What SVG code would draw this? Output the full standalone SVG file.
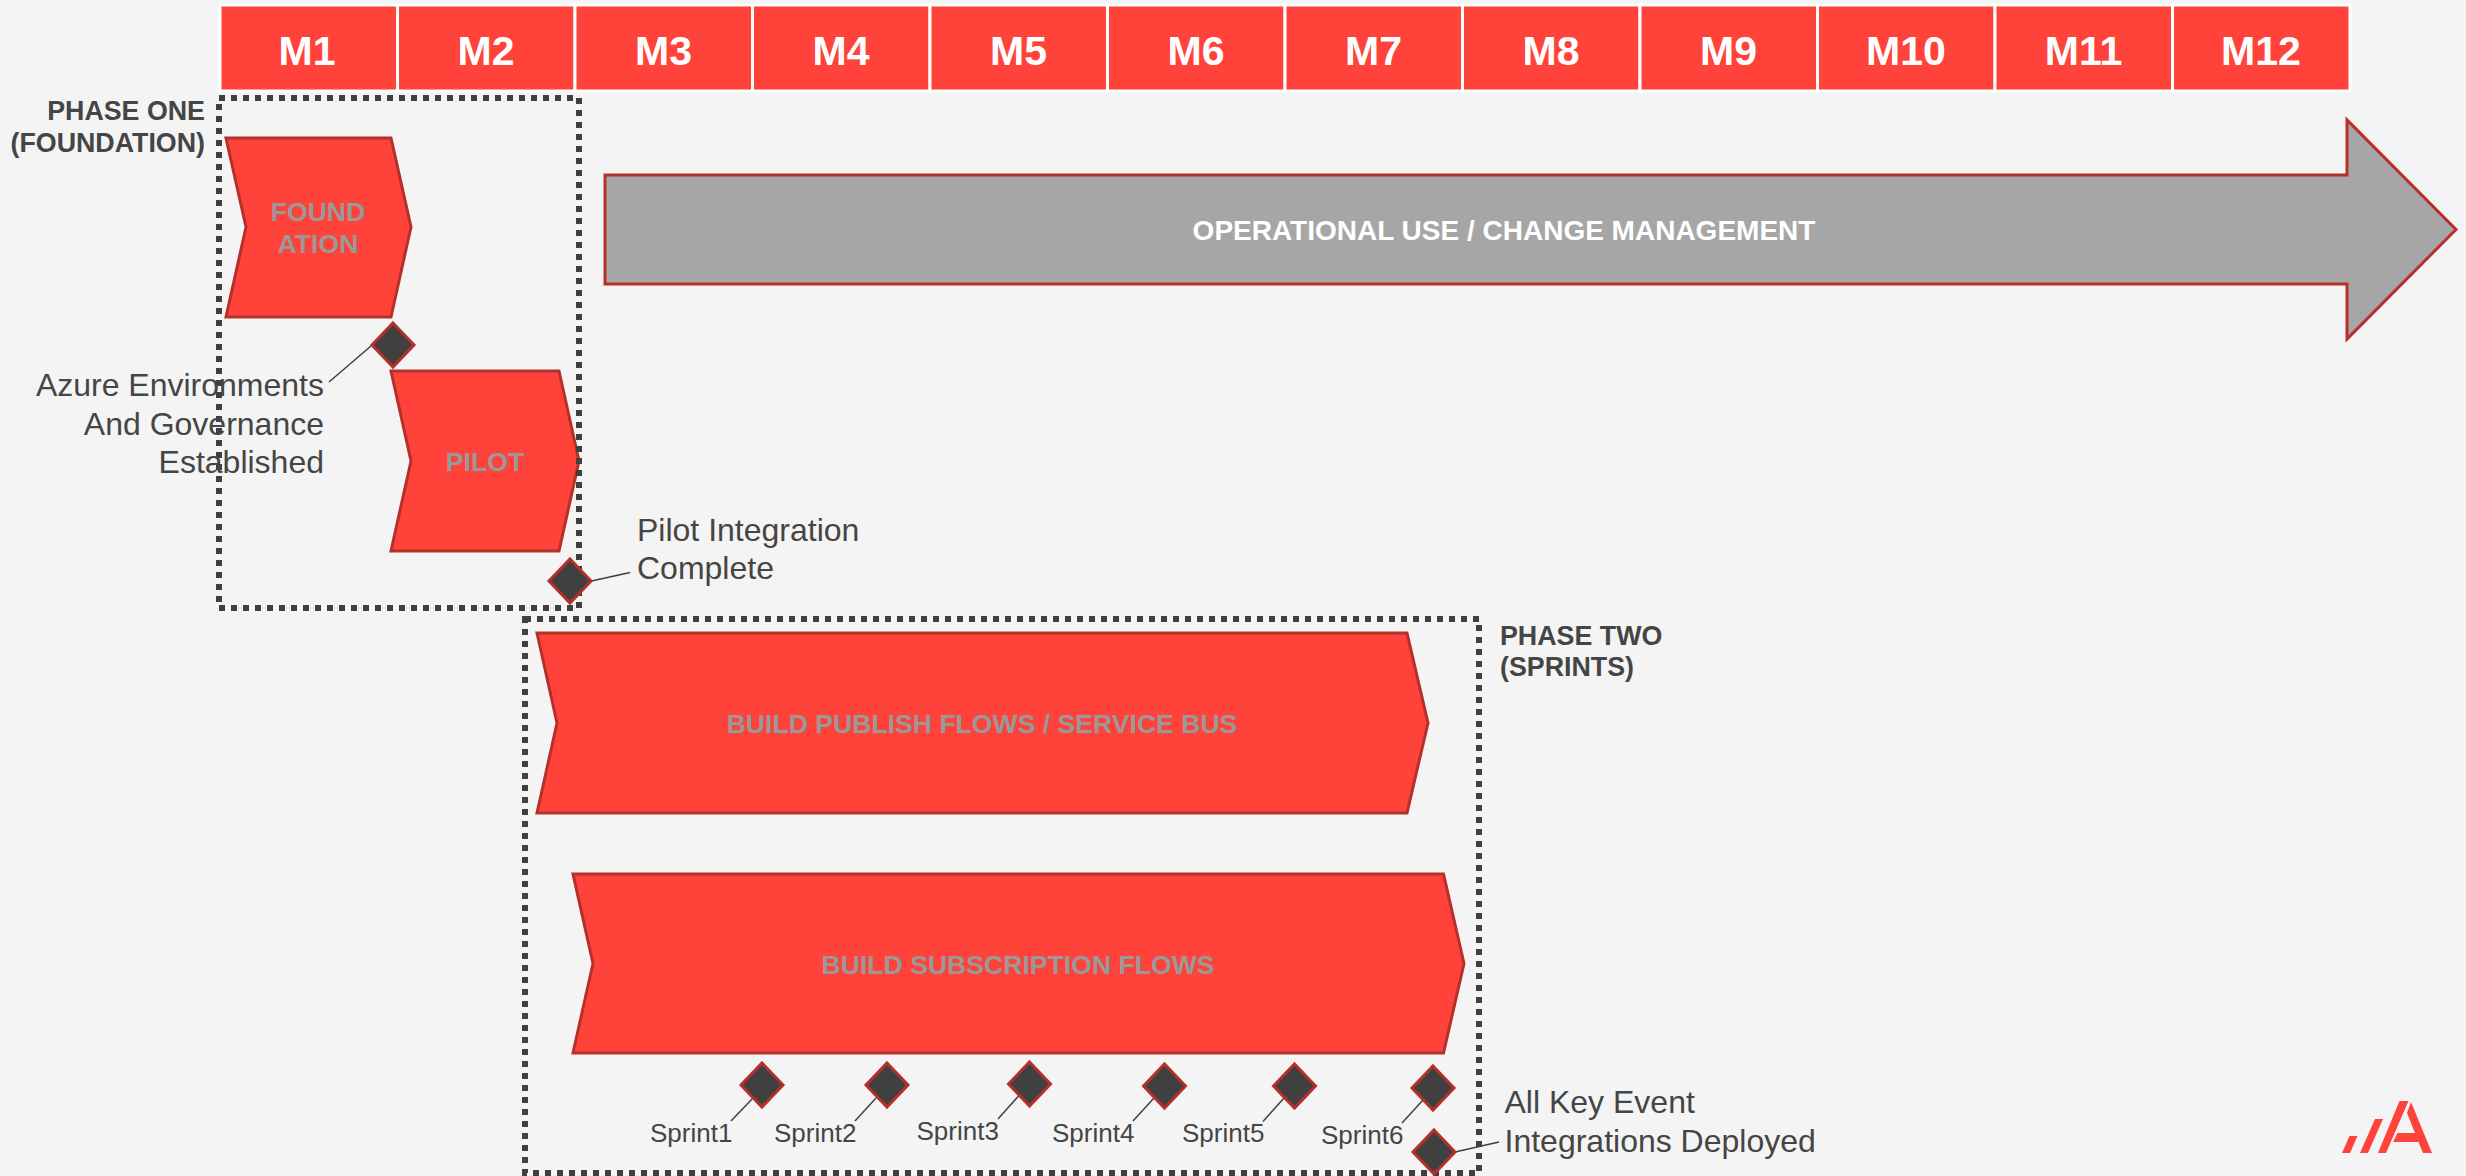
<svg xmlns="http://www.w3.org/2000/svg" width="2466" height="1176" viewBox="0 0 2466 1176">
<style>
text{font-family:"Liberation Sans",Arial,sans-serif}
.m{fill:#fff;font-weight:700;font-size:41px;text-anchor:middle}
.cell{fill:#ff433a;stroke:#fff;stroke-width:3}
.chev{fill:#ff433a;stroke:#b5302a;stroke-width:3}
.cl{fill:#999;font-weight:700;font-size:26.6px;text-anchor:middle}
.dia{fill:#404040;stroke:#b5302a;stroke-width:3}
.box{fill:none;stroke:#404040;stroke-width:6;stroke-dasharray:6 6}
.ln{fill:none;stroke:#404040;stroke-width:1.5}
.lb{fill:#454545;font-size:32px}
.sp{fill:#454545;font-size:26px}
.ph{fill:#454545;font-weight:700;font-size:26.8px}
</style>
<rect width="2466" height="1176" fill="#f4f4f4"/>
<g id="header">
<g id="m1"><rect class="cell" x="220" y="5" width="177.5" height="86"/><text class="m" x="307" y="65">M1</text></g>
<g id="m2"><rect class="cell" x="397.5" y="5" width="177.5" height="86"/><text class="m" x="486" y="65">M2</text></g>
<g id="m3"><rect class="cell" x="575" y="5" width="177.5" height="86"/><text class="m" x="663.5" y="65">M3</text></g>
<g id="m4"><rect class="cell" x="752.5" y="5" width="177.5" height="86"/><text class="m" x="841" y="65">M4</text></g>
<g id="m5"><rect class="cell" x="930" y="5" width="177.5" height="86"/><text class="m" x="1018.5" y="65">M5</text></g>
<g id="m6"><rect class="cell" x="1107.5" y="5" width="177.5" height="86"/><text class="m" x="1196" y="65">M6</text></g>
<g id="m7"><rect class="cell" x="1285" y="5" width="177.5" height="86"/><text class="m" x="1373.5" y="65">M7</text></g>
<g id="m8"><rect class="cell" x="1462.5" y="5" width="177.5" height="86"/><text class="m" x="1551" y="65">M8</text></g>
<g id="m9"><rect class="cell" x="1640" y="5" width="177.5" height="86"/><text class="m" x="1728.5" y="65">M9</text></g>
<g id="m10"><rect class="cell" x="1817.5" y="5" width="177.5" height="86"/><text class="m" x="1906" y="65">M10</text></g>
<g id="m11"><rect class="cell" x="1995" y="5" width="177.5" height="86"/><text class="m" x="2083.5" y="65">M11</text></g>
<g id="m12"><rect class="cell" x="2172.5" y="5" width="177.5" height="86"/><text class="m" x="2261" y="65">M12</text></g>
</g>
<g id="operational"><path d="M605 175H2347V120L2456 229.5L2347 339V284H605Z" fill="#a6a6a6" stroke="#b5302a" stroke-width="3"/><text x="1504" y="240" fill="#fff" font-weight="700" font-size="28" text-anchor="middle">OPERATIONAL USE / CHANGE MANAGEMENT</text></g>
<g id="foundation"><path class="chev" d="M226 138H391L411 227L391 317H226L246 227Z"/><text class="cl" x="318" y="221">FOUND</text><text class="cl" x="318" y="253">ATION</text></g>
<g id="pilot"><path class="chev" d="M391 371H559L579 461L559 551H391L411 461Z"/><text class="cl" x="485" y="471">PILOT</text></g>
<g id="build-publish"><path class="chev" d="M537 633H1407L1428 723L1407 813H537L557 723Z"/><text class="cl" x="982" y="733">BUILD PUBLISH FLOWS / SERVICE BUS</text></g>
<g id="build-subscription"><path class="chev" d="M573 874H1443.5L1464 963.5L1443.5 1053H573L593 963.5Z"/><text class="cl" x="1018" y="974">BUILD SUBSCRIPTION FLOWS</text></g>
<g id="phase-one"><rect class="box" x="219" y="98" width="360" height="510"/><text class="ph" text-anchor="end" x="205" y="120">PHASE ONE</text><text class="ph" text-anchor="end" x="205" y="152">(FOUNDATION)</text></g>
<g id="phase-two"><rect class="box" x="525" y="619" width="954" height="554"/><text class="ph" x="1500" y="645">PHASE TWO</text><text class="ph" x="1500" y="676">(SPRINTS)</text></g>
<g id="connectors">
<path class="ln" d="M371 346L329 382"/><path class="ln" d="M591.5 581L630 572.5"/>
<path class="ln" d="M753 1098L731 1121"/><path class="ln" d="M876 1098L855 1121"/><path class="ln" d="M1018.5 1096L998 1119"/><path class="ln" d="M1154 1098L1133 1121"/><path class="ln" d="M1284 1098L1263 1121.5"/><path class="ln" d="M1423 1100L1402 1123"/><path class="ln" d="M1455 1152L1499 1142"/>
</g>
<g id="ms-azure"><path class="dia" d="M393 323L414 345L393 367L372 345Z"/><text class="lb" text-anchor="end" x="324" y="396">Azure Environments</text><text class="lb" text-anchor="end" x="324" y="435">And Governance</text><text class="lb" text-anchor="end" x="324" y="473">Established</text></g>
<g id="ms-pilot"><path class="dia" d="M570 559L591 581L570 603L549 581Z"/><text class="lb" x="637" y="541">Pilot Integration</text><text class="lb" x="637" y="579">Complete</text></g>
<g id="sprint1"><path class="dia" d="M762 1063L783 1085L762 1107L741 1085Z"/><text class="sp" x="650" y="1142">Sprint1</text></g>
<g id="sprint2"><path class="dia" d="M887 1063L908 1085L887 1107L866 1085Z"/><text class="sp" x="774" y="1142">Sprint2</text></g>
<g id="sprint3"><path class="dia" d="M1029.5 1062L1050.5 1084L1029.5 1106L1008.5 1084Z"/><text class="sp" x="916.5" y="1140">Sprint3</text></g>
<g id="sprint4"><path class="dia" d="M1164.5 1064L1185.5 1086L1164.5 1108L1143.5 1086Z"/><text class="sp" x="1052" y="1142">Sprint4</text></g>
<g id="sprint5"><path class="dia" d="M1294.5 1064L1315.5 1086L1294.5 1108L1273.5 1086Z"/><text class="sp" x="1182" y="1142">Sprint5</text></g>
<g id="sprint6"><path class="dia" d="M1433 1066L1454 1088L1433 1110L1412 1088Z"/><text class="sp" x="1321" y="1144">Sprint6</text></g>
<g id="ms-all"><path class="dia" d="M1434 1130L1455 1152L1434 1174L1413 1152Z"/><text class="lb" x="1504.5" y="1113">All Key Event</text><text class="lb" x="1504.5" y="1152">Integrations Deployed</text></g>
<g id="logo" fill="#ff433a"><path d="M2342 1153H2350L2357.5 1136H2349.5ZM2360 1153H2368L2383 1119H2375ZM2378 1153H2386L2408.5 1101H2399.5ZM2411 1102L2432 1153H2423L2418.5 1142H2393L2397.5 1133H2415L2407 1113Z"/></g>
</svg>
